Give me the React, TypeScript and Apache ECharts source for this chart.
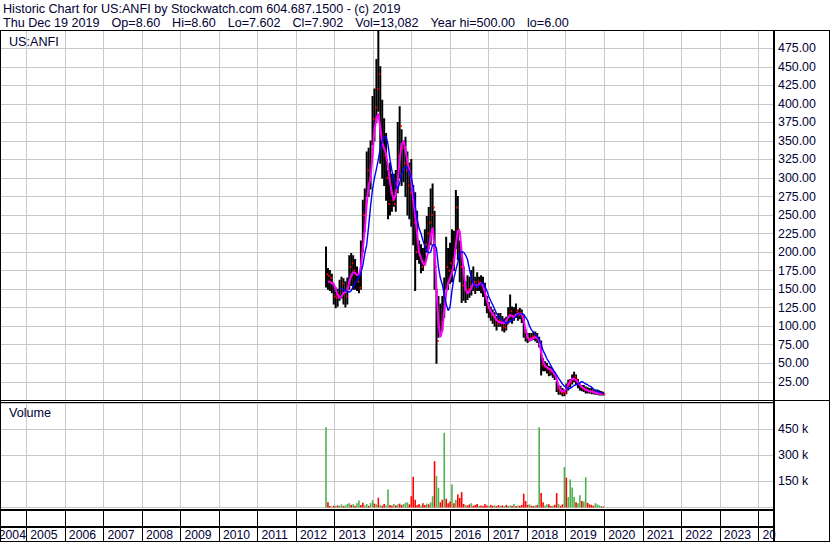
import React, { useEffect, useRef } from 'react';
import * as echarts from 'echarts';

// ---- data ----
const firstBarYear = 2012.778; // first bar, fractional year
const barStepYears = 0.0503; // spacing between bars

const highs = [
  207, 178, 175, 170, 155, 152, 150, 162, 166, 164,
  160, 165, 195, 198, 195, 190, 180, 170, 215, 270,
  285, 335, 340, 350, 410, 420, 460, 498, 450, 405,
  380, 360, 310, 320, 305, 305, 310, 375, 396, 365,
  350, 355, 335, 320, 325, 290, 280, 255, 215, 210,
  205, 230, 248, 260, 285, 292, 255, 150, 140, 130,
  140, 165, 220, 205, 212, 230, 228, 283, 275, 215,
  200, 180, 160, 168, 166, 175, 180, 166, 172, 166,
  168, 166, 158, 140, 132, 126, 122, 118, 113, 117,
  117, 113, 110, 112, 125, 142, 126, 125, 130, 122,
  124, 122, 115, 95, 90, 90, 90, 92, 92, 90,
  85, 80, 56, 52, 50, 46, 45, 42, 38, 25,
  20, 19, 16, 14, 22, 27, 28, 34, 38, 34,
  28, 22, 20, 20, 18, 17, 16, 16, 15, 14,
  14, 13, 12, 11,
];
const lows = [
  153, 150, 148, 145, 130, 125, 127, 135, 138, 130,
  126, 130, 150, 155, 150, 150, 148, 145, 150, 200,
  228, 275, 275, 285, 345, 350, 375, 390, 320, 300,
  290, 270, 245, 250, 255, 262, 255, 280, 300, 290,
  295, 275, 250, 245, 235, 210, 148, 190, 185, 172,
  175, 185, 200, 205, 210, 225, 150, 50, 85, 88,
  95, 112, 150, 150, 158, 160, 175, 205, 190, 160,
  132, 135, 132, 136, 139, 142, 148, 144, 148, 148,
  145, 140, 128, 118, 112, 108, 104, 100, 95, 100,
  100, 94, 92, 95, 104, 108, 104, 108, 112, 108,
  110, 105, 85, 80, 78, 80, 81, 82, 80, 78,
  72, 34, 40, 40, 37, 33, 34, 31, 28, 12,
  8, 8, 6, 6, 9, 14, 18, 22, 25, 22,
  17, 14, 13, 12, 10, 10, 10, 9, 9, 8,
  8, 7, 7, 7,
];
const closes = [
  170, 168, 165, 158, 140, 138, 142, 150, 158, 145,
  140, 155, 180, 185, 175, 170, 160, 152, 200, 250,
  265, 310, 300, 330, 380, 395, 420, 440, 360, 340,
  330, 300, 265, 280, 270, 265, 290, 330, 370, 340,
  320, 310, 290, 280, 270, 240, 200, 205, 195, 180,
  185, 210, 225, 240, 250, 260, 180, 80, 100, 105,
  115, 130, 180, 175, 185, 190, 200, 260, 230, 180,
  155, 150, 145, 150, 150, 158, 160, 155, 160, 158,
  155, 150, 140, 125, 120, 115, 112, 108, 103, 108,
  106, 100, 98, 103, 115, 120, 110, 115, 120, 115,
  118, 112, 92, 85, 82, 84, 86, 87, 85, 82,
  76, 48, 46, 45, 42, 38, 40, 35, 32, 16,
  12, 11, 9, 10, 18, 22, 24, 28, 32, 28,
  22, 18, 16, 15, 14, 13, 12, 12, 11, 10,
  10, 9, 9, 8,
];
// magenta (short) moving average as drawn
const shortAverage = [
  null, 160, 160, 158, 157, 150, 142, 138, 140, 145,
  146, 148, 160, 168, 173, 172, 169, 170, 180, 205,
  229, 265, 290, 300, 330, 365, 380, 387, 368, 347,
  340, 332, 315, 295, 279, 270, 278, 295, 325, 345,
  350, 338, 322, 310, 298, 270, 250, 225, 200, 192,
  185, 182, 192, 205, 222, 233, 205, 150, 104, 85,
  95, 120, 145, 158, 165, 172, 185, 210, 229, 228,
  200, 175, 150, 144, 147, 152, 158, 155, 153, 157,
  158, 155, 145, 135, 126, 120, 117, 113, 108, 106,
  105, 104, 104, 107, 112, 115, 114, 112, 115, 117,
  117, 116, 108, 95, 85, 81, 82, 84, 85, 84,
  80, 65, 52, 47, 44, 43, 41, 39, 35, 29,
  20, 14, 12, 12, 16, 21, 26, 29, 29, 27,
  24, 21, 18, 16, 14, 13, 12, 12, 11, 10,
  10, 9, 9, 8,
];
// blue (long) moving average as drawn
const longAverage = [
  null, null, null, null, null, null, null, 151, 150, 149,
  148, 147, 146, 148, 153, 158, 162, 166, 172, 182,
  198, 210, 235, 262, 285, 300, 312, 325, 340, 350,
  355, 356, 345, 325, 310, 298, 290, 285, 293, 305,
  312, 315, 313, 308, 300, 287, 262, 245, 232, 225,
  216, 208, 202, 199, 200, 210, 210, 205, 180, 165,
  156, 143, 130, 121, 126, 148, 165, 176, 186, 198,
  200, 200, 196, 190, 177, 165, 158, 154, 153, 155,
  157, 158, 153, 148, 140, 134, 129, 123, 117, 113,
  110, 108, 106, 104, 105, 106, 108, 110, 113, 116,
  117, 117, 116, 112, 108, 100, 95, 92, 89, 86,
  82, 76, 67, 62, 56, 52, 47, 42, 38, 34,
  30, 26, 22, 19, 17, 16, 16, 18, 20, 21,
  22, 24, 25, 24, 22, 21, 19, 18, 15, 13,
  12, 11, 10, 9,
];
// volume in thousands of shares
const volumesK = [
  460, 30, 8, 6, 10, 8, 12, 10, 18, 8,
  12, 20, 25, 15, 18, 10, 25, 40, 15, 27,
  12, 20, 10, 25, 42, 22, 18, 56, 15, 10,
  20, 12, 104, 15, 10, 20, 12, 18, 22, 15,
  20, 27, 30, 18, 65, 176, 45, 15, 20, 12,
  25, 15, 22, 18, 30, 65, 266, 180, 113, 30,
  45, 429, 50, 25, 35, 132, 25, 45, 75, 55,
  88, 20, 15, 12, 18, 25, 10, 15, 20, 10,
  12, 8, 20, 12, 8, 15, 10, 12, 8, 14,
  10, 12, 8, 15, 10, 12, 10, 20, 8, 12,
  10, 15, 79, 37, 15, 18, 10, 8, 12, 15,
  460, 83, 30, 12, 18, 18, 8, 10, 15, 83,
  20, 10, 18, 232, 171, 60, 161, 115, 60, 30,
  25, 71, 37, 35, 174, 27, 18, 15, 10, 25,
  18, 12, 8, 6,
];
// G = up (green) volume bar, R = down (red) volume bar
const volumeDirection = (
  'G R R G R G R G G R ' +
  'G G G R G R G G R R ' +
  'G G R G G R G R G R ' +
  'R G G R R G R G R R ' +
  'G G G R R R R R R G ' +
  'R R G R G G R G G R ' +
  'R G R R R G R G R R ' +
  'R R G R R G R R R G ' +
  'R R R R G R R G R R ' +
  'G R G R G G R G R G ' +
  'R R R R R G R R G R ' +
  'G R R G G R R G R R ' +
  'G R R G R G G G G R ' +
  'G G R G G R R R R G ' +
  'G G G R'
).split(' ');

const headerLine1 = 'Historic Chart for US:ANFI by Stockwatch.com 604.687.1500 - (c) 2019';
const headerFields = ['Thu Dec 19 2019', 'Op=8.60', 'Hi=8.60', 'Lo=7.602', 'Cl=7.902', 'Vol=13,082', 'Year hi=500.00', 'lo=6.00'];
const symbolLabel = 'US:ANFI';
const volumeLabel = 'Volume';

const firstYear = 2004;
const lastAxisYear = 2024.405;
const priceMax = 499;
const priceStep = 25;
const volumeMax = 602800;
const volumeStep = 150000;

// ---- styling ----
const FONT = 'Arial, "Liberation Sans", sans-serif';
const TEXT = '#000033';
const GRID_GRAY = '#c8c8c8';
const GREEN = '#4db34d';
const RED = '#ff0000';

const GL = -12.2; // x of 2004-01-01 (off-canvas), so that year ticks are integers
const GR = 56;

export default function App() {
  const ref = useRef<HTMLDivElement>(null);

  useEffect(() => {
    if (!ref.current) return;
    const chart = echarts.init(ref.current, undefined, { renderer: 'svg' });

    const times = highs.map((_, i) => +(firstBarYear + i * barStepYears).toFixed(4));
    const ohlc = times.map((t, i) => [t, highs[i], lows[i], closes[i]]);
    const shortData = times
      .map((t, i) => [t, shortAverage[i]])
      .filter((d) => d[1] !== null);
    const longData = times
      .map((t, i) => [t, longAverage[i]])
      .filter((d) => d[1] !== null);
    const volData = times.map((t, i) => ({
      value: [t, volumesK[i] * 1000],
      itemStyle: { color: volumeDirection[i] === 'G' ? GREEN : RED },
    }));

    const hLine = (x1: number, x2: number, y: number, w = 1) => ({
      type: 'line',
      z: 100,
      silent: true,
      shape: { x1, y1: y, x2, y2: y },
      style: { stroke: '#000', lineWidth: w },
    });
    const vLine = (x: number, y1: number, y2: number, w = 1) => ({
      type: 'line',
      z: 100,
      silent: true,
      shape: { x1: x, y1, x2: x, y2 },
      style: { stroke: '#000', lineWidth: w },
    });
    const label = (text: string, x: number, y: number, rich?: any) => ({
      type: 'text',
      z: 101,
      x,
      y,
      style: {
        text,
        fill: TEXT,
        fontSize: 12.6,
        fontFamily: FONT,
        align: 'left',
        verticalAlign: 'middle',
        textAlign: 'left',
        textVerticalAlign: 'middle',
        ...(rich ? { rich } : {}),
      },
    });

    const headerLine2 = headerFields.map((f) => '{f|' + f + '}').join(' ');
    const headerRich = {
      f: { padding: [0, 8.4, 0, 0], fontSize: 12.6, fontFamily: FONT, fill: TEXT, color: TEXT },
    };

    const hiddenXAxis = (gridIndex: number) => ({
      type: 'value',
      gridIndex,
      min: firstYear,
      max: lastAxisYear,
      interval: 1,
      axisLine: { show: false },
      axisTick: { show: false },
      axisLabel: { show: false },
      splitLine: { show: true, lineStyle: { color: GRID_GRAY, width: 1 } },
    });

    const gridBase = { left: GL, right: GR, containLabel: false, outerBoundsMode: 'none' };

    const option: any = {
      animation: false,
      backgroundColor: '#ffffff',
      grid: [
        { ...gridBase, top: 30.5, height: 369.8 },
        { ...gridBase, top: 402.5, height: 105 },
        { ...gridBase, top: 510, height: 17 },
      ],
      xAxis: [
        hiddenXAxis(0),
        hiddenXAxis(1),
        {
          type: 'value',
          gridIndex: 2,
          min: firstYear,
          max: lastAxisYear,
          interval: 1,
          axisLine: { show: false },
          axisTick: { show: true, length: 14.5, lineStyle: { color: '#000', width: 1 } },
          splitLine: { show: true, lineStyle: { color: '#000', width: 1 } },
          axisLabel: {
            show: true,
            margin: 8,
            align: 'left',
            verticalAlign: 'middle',
            color: TEXT,
            fontSize: 12.2,
            fontFamily: FONT,
            padding: [0, 0, 0, 4],
            formatter: (v: number) => {
              if (Math.abs(v - Math.round(v)) > 1e-6) return '';
              if (Math.round(v) === firstYear) return '{first|' + Math.round(v) + '}';
              return String(Math.round(v));
            },
            rich: {
              first: { padding: [0, 0, 0, 7], fontSize: 12.2, fontFamily: FONT, color: TEXT },
            },
          },
        },
      ],
      yAxis: [
        {
          type: 'value',
          gridIndex: 0,
          position: 'right',
          min: 0,
          max: priceMax,
          interval: priceStep,
          axisLine: { show: false },
          axisTick: { show: false },
          splitLine: { show: true, lineStyle: { color: GRID_GRAY, width: 1 } },
          axisLabel: {
            margin: 4,
            color: TEXT,
            fontSize: 12.4,
            fontFamily: FONT,
            formatter: (v: number) =>
              v > 0 && v % priceStep === 0 && v < priceMax - 10 ? v.toFixed(2) : '',
          },
        },
        {
          type: 'value',
          gridIndex: 1,
          position: 'right',
          min: 0,
          max: volumeMax,
          interval: volumeStep,
          axisLine: { show: false },
          axisTick: { show: false },
          splitLine: { show: true, lineStyle: { color: GRID_GRAY, width: 1 } },
          axisLabel: {
            margin: 4,
            color: TEXT,
            fontSize: 12.4,
            fontFamily: FONT,
            formatter: (v: number) =>
              v > 0 && v % volumeStep === 0 && v < 600000 ? v / 1000 + ' k' : '',
          },
        },
        { type: 'value', gridIndex: 2, show: false },
      ],
      series: [
        {
          type: 'custom',
          name: 'range',
          xAxisIndex: 0,
          yAxisIndex: 0,
          data: ohlc,
          z: 2,
          clip: true,
          renderItem: (_p: any, api: any) => {
            const t = api.value(0);
            const a = api.coord([t, api.value(1)]);
            const b = api.coord([t, api.value(2)]);
            return {
              type: 'line',
              shape: { x1: a[0], y1: a[1] - 0.5, x2: b[0], y2: b[1] + 0.5 },
              style: { stroke: '#000', lineWidth: 2 },
            };
          },
        },
        {
          type: 'custom',
          name: 'close',
          xAxisIndex: 0,
          yAxisIndex: 0,
          data: ohlc,
          z: 3,
          clip: true,
          renderItem: (_p: any, api: any) => {
            const t = api.value(0);
            const c = api.coord([t, api.value(3)]);
            return {
              type: 'rect',
              shape: { x: c[0] + 0.5, y: c[1] - 1, width: 1.6, height: 2 },
              style: { fill: RED },
            };
          },
        },
        {
          type: 'line',
          name: 'short',
          xAxisIndex: 0,
          yAxisIndex: 0,
          data: shortData,
          showSymbol: false,
          symbol: 'none',
          z: 4,
          lineStyle: { color: '#ff00ff', width: 2 },
        },
        {
          type: 'line',
          name: 'long',
          xAxisIndex: 0,
          yAxisIndex: 0,
          data: longData,
          showSymbol: false,
          symbol: 'none',
          z: 5,
          lineStyle: { color: '#0000ff', width: 1.4 },
        },
        {
          type: 'bar',
          name: 'volume',
          xAxisIndex: 1,
          yAxisIndex: 1,
          data: volData,
          barWidth: 1.6,
          barGap: '0%',
        },
      ],
      graphic: [
        label(headerLine1, 3, 8.5),
        label(headerLine2, 3, 22.5, headerRich),
        label(symbolLabel, 9, 41.5),
        label(volumeLabel, 9, 413),
        {
          type: 'rect',
          z: 99,
          silent: true,
          shape: { x: 775.5, y: 528, width: 53, height: 13 },
          style: { fill: '#ffffff' },
        },
        hLine(0, 830, 30.5),
        hLine(0, 830, 400.5),
        hLine(0, 774, 402.5),
        hLine(0, 774, 510, 2),
        hLine(0, 774, 527, 2),
        hLine(0, 830, 541.5),
        vLine(0.5, 30, 542),
        vLine(774, 30, 542, 2),
        vLine(829.5, 30, 542),
      ],
    };

    chart.setOption(option);
    return () => chart.dispose();
  }, []);

  return (
    <div
      ref={ref}
      style={{ position: 'absolute', left: 0, top: 0, width: 830, height: 543, background: '#fff' }}
    />
  );
}
